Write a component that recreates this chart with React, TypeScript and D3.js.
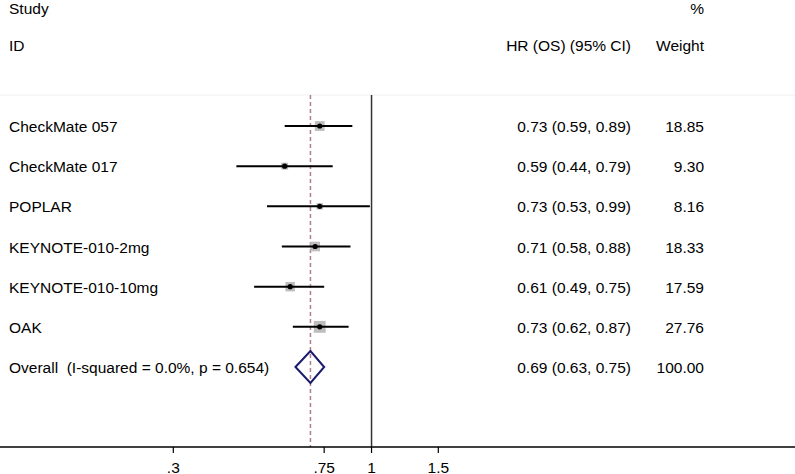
import React from 'react';
import * as d3 from 'd3';

const studies = ['CheckMate 057', 'CheckMate 017', 'POPLAR', 'KEYNOTE-010-2mg', 'KEYNOTE-010-10mg', 'OAK'];
const hr = [0.73, 0.59, 0.73, 0.71, 0.61, 0.73];
const lower = [0.59, 0.44, 0.53, 0.58, 0.49, 0.62];
const upper = [0.89, 0.79, 0.99, 0.88, 0.75, 0.87];
const weights = [18.85, 9.3, 8.16, 18.33, 17.59, 27.76];
const ciLabels = ['0.73 (0.59, 0.89)', '0.59 (0.44, 0.79)', '0.73 (0.53, 0.99)', '0.71 (0.58, 0.88)', '0.61 (0.49, 0.75)', '0.73 (0.62, 0.87)'];
const weightLabels = ['18.85', '9.30', '8.16', '18.33', '17.59', '27.76'];

const overallHr = 0.69;
const overallLower = 0.63;
const overallUpper = 0.75;
const overallLabel = 'Overall  (I-squared = 0.0%, p = 0.654)';
const overallCi = '0.69 (0.63, 0.75)';
const overallWeight = '100.00';

const ticks = [0.3, 0.75, 1, 1.5];
const tickLabels = ['.3', '.75', '1', '1.5'];

const W = 795;
const H = 474;
const font = '"Liberation Sans", Arial, sans-serif';

export default function App() {
  const x = d3.scaleLog().domain([0.3, 1.5]).range([173.3, 438.3]);
  const y = d3.scaleLinear().domain([0, 6]).range([126, 367]);
  const plotTop = 95;
  const axisY = 447;
  const textX = 9;
  const ciRight = 631;
  const wRight = 704;

  // diamond for the pooled estimate
  const dy = y(6);
  const diamond = [
    [x(overallLower), dy],
    [x(overallHr), dy - 16],
    [x(overallUpper), dy],
    [x(overallHr), dy + 16],
  ];

  const txt = { fontFamily: font, fontSize: 15.5, fill: '#000' } as const;

  return (
    <svg width={W} height={H} style={{ position: 'absolute', left: 0, top: 0, background: '#fff' }}>
      <rect width={W} height={H} fill="#fff" />

      {/* headers */}
      <text x={textX} y={14} {...txt}>Study</text>
      <text x={textX} y={51} {...txt}>ID</text>
      <text x={wRight} y={14} textAnchor="end" {...txt}>%</text>
      <text x={ciRight} y={51} textAnchor="end" {...txt}>HR (OS) (95% CI)</text>
      <text x={wRight} y={51} textAnchor="end" {...txt}>Weight</text>

      {/* faint top border of plot region */}
      <line x1={0} x2={W} y1={plotTop} y2={plotTop} stroke="#f0f0f0" strokeWidth={1} />

      {/* null line */}
      <line x1={x(1)} x2={x(1)} y1={plotTop} y2={axisY} stroke="#333" strokeWidth={1.5} />

      {/* overall effect line */}
      <line x1={x(overallHr)} x2={x(overallHr)} y1={plotTop} y2={axisY}
        stroke="#b07f8f" strokeWidth={1.5} strokeDasharray="4,3" />

      {/* study rows */}
      {studies.map((s, i) => {
        const side = 2.25 * Math.sqrt(weights[i]);
        const cy = y(i);
        return (
          <g key={s}>
            <rect x={x(hr[i]) - side / 2} y={cy - side / 2} width={side} height={side} fill="#bdbdbd" />
            <line x1={x(lower[i])} x2={x(upper[i])} y1={cy} y2={cy} stroke="#000" strokeWidth={2} />
            <circle cx={x(hr[i])} cy={cy} r={2.6} fill="#000" />
            <text x={textX} y={cy + 6} {...txt}>{s}</text>
            <text x={ciRight} y={cy + 6} textAnchor="end" {...txt}>{ciLabels[i]}</text>
            <text x={wRight} y={cy + 6} textAnchor="end" {...txt}>{weightLabels[i]}</text>
          </g>
        );
      })}

      {/* overall */}
      <polygon points={diamond.map(p => p.join(',')).join(' ')} fill="none" stroke="#1b1b6b" strokeWidth={2} />
      <text x={textX} y={dy + 6} style={{ whiteSpace: 'pre' }} {...txt}>{overallLabel}</text>
      <text x={ciRight} y={dy + 6} textAnchor="end" {...txt}>{overallCi}</text>
      <text x={wRight} y={dy + 6} textAnchor="end" {...txt}>{overallWeight}</text>

      {/* x axis */}
      <line x1={0} x2={W} y1={axisY} y2={axisY} stroke="#000" strokeWidth={1.5} />
      {ticks.map((t, i) => (
        <g key={t}>
          <line x1={x(t)} x2={x(t)} y1={axisY} y2={axisY + 6} stroke="#000" strokeWidth={1.2} />
          <text x={x(t)} y={473} textAnchor="middle" {...txt}>{tickLabels[i]}</text>
        </g>
      ))}
    </svg>
  );
}
